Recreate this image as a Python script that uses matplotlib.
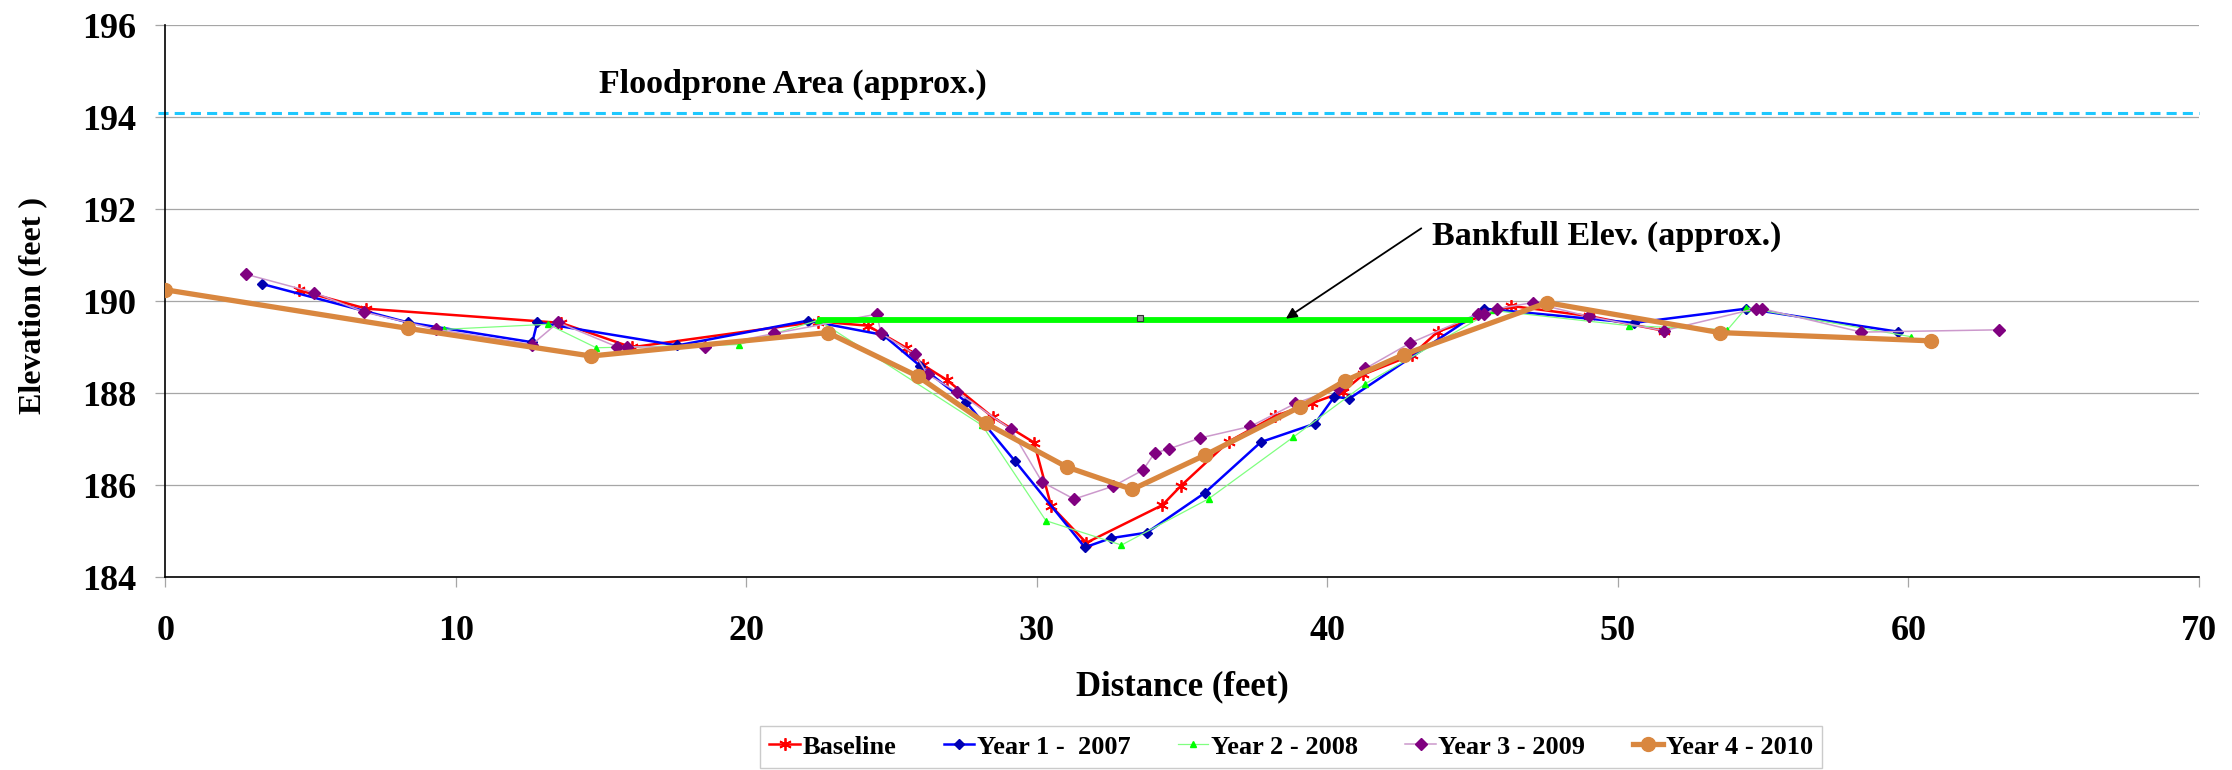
import matplotlib
matplotlib.use("Agg")
import matplotlib.pyplot as plt

# cross-section survey data: distance (feet) vs elevation (feet)
base_x = [4.6, 6.91, 13.62, 16.05, 22.48, 24.18, 25.5, 26.09, 26.9, 28.48, 29.9, 30.49, 31.7,
          34.32, 34.96, 36.6, 38.21, 39.46, 40.52, 41.24, 42.91, 43.8, 46.32, 49.0, 51.57]
base_y = [190.24, 189.84, 189.53, 189.0, 189.56, 189.47, 188.99, 188.61, 188.29, 187.48, 186.93,
          185.55, 184.75, 185.57, 185.99, 186.95, 187.51, 187.78, 188.03, 188.41, 188.83, 189.34,
          189.9, 189.68, 189.36]

yr1_x = [3.31, 8.35, 12.63, 12.8, 17.62, 22.12, 24.7, 25.99, 27.55, 29.24, 31.65, 32.54, 33.78,
         35.77, 37.71, 39.57, 40.24, 40.74, 45.4, 50.54, 54.42, 59.63]
yr1_y = [190.38, 189.54, 189.11, 189.54, 189.04, 189.58, 189.27, 188.59, 187.82, 186.53, 184.65,
         184.85, 184.97, 185.83, 186.94, 187.34, 187.93, 187.88, 189.84, 189.53, 189.84, 189.34]

yr2_x = [9.58, 13.17, 14.83, 19.75, 22.48, 28.12, 30.31, 32.91, 35.92, 38.81, 41.31, 45.7,
         50.38, 53.77, 54.42, 60.09]
yr2_y = [189.39, 189.5, 188.99, 189.06, 189.59, 187.3, 185.23, 184.7, 185.71, 187.04, 188.21,
         189.8, 189.47, 189.38, 189.86, 189.23]

yr3_x = [2.76, 5.12, 6.82, 9.33, 12.62, 13.52, 15.55, 15.9, 18.58, 20.96, 24.48, 24.64, 25.8,
         26.24, 27.25, 29.1, 30.18, 31.28, 32.63, 33.65, 34.05, 34.54, 35.63, 37.35, 38.9, 40.38,
         41.31, 42.84, 45.18, 45.4, 45.84, 47.06, 49.0, 51.57, 54.74, 54.96, 58.38, 63.12]
yr3_y = [190.59, 190.19, 189.77, 189.39, 189.06, 189.54, 189.01, 189.01, 189.0, 189.3, 189.72,
         189.3, 188.85, 188.41, 188.03, 187.22, 186.07, 185.7, 185.98, 186.33, 186.7, 186.79,
         187.03, 187.28, 187.78, 188.12, 188.54, 189.09, 189.73, 189.73, 189.84, 189.97, 189.67,
         189.36, 189.84, 189.84, 189.33, 189.38]

yr4_x = [0, 8.36, 14.65, 22.8, 25.9, 28.23, 31.02, 33.28, 35.8, 39.07, 40.6, 42.62, 47.56, 53.5, 60.79]
yr4_y = [190.25, 189.41, 188.81, 189.32, 188.37, 187.35, 186.4, 185.91, 186.66, 187.71, 188.27,
         188.84, 189.97, 189.32, 189.14]

floodprone_elev = 194.1
bankfull_elev = 189.59
bankfull_x = [22.48, 45.0]

plt.rcParams['font.family'] = ['Liberation Serif', 'DejaVu Serif']
plt.rcParams['font.weight'] = 'bold'

fig = plt.figure(figsize=(22.32, 7.7), dpi=100)
ax = fig.add_axes([0.0741, 0.2503, 0.9111, 0.7168])

ax.plot(base_x, base_y, color='#FF0000', lw=1.8, marker=(6, 2, 0), ms=9, mew=1.3,
        mec='#FF0000', label='Baseline', zorder=3)
ax.plot(yr1_x, yr1_y, color='#0000FF', lw=1.8, marker='D', ms=5.5, mfc='#0000B0',
        mec='#0000B0', label='Year 1 -  2007', zorder=3)
ax.plot(yr2_x, yr2_y, color='#80FF80', lw=0.9, marker='^', ms=5, mfc='#00FF00',
        mec='#00FF00', label='Year 2 - 2008', zorder=3)
ax.plot(yr3_x, yr3_y, color='#CC99CC', lw=1.1, marker='D', ms=6, mfc='#800080',
        mec='#800080', label='Year 3 - 2009', zorder=3)
ax.plot(yr4_x, yr4_y, color='#D9873F', lw=3.8, marker='o', ms=10, mfc='#D9873F',
        mec='#D9873F', label='Year 4 - 2010', zorder=4)

# reference lines
ax.plot([-0.25, 70], [floodprone_elev, floodprone_elev], color='#1EC8FF', lw=2.2,
        dashes=(3.3, 2.0), clip_on=False, zorder=2)
ax.plot(bankfull_x, [bankfull_elev, bankfull_elev], color='#00FF00', lw=4.2,
        solid_capstyle='butt', zorder=5)
ax.plot([33.55], [bankfull_elev + 0.05], marker='s', ms=5, mfc='#9A9A9A', mec='#333333',
        mew=0.8, zorder=6)

ax.text(14.93, 194.54, 'Floodprone Area (approx.)', fontsize=24.5, fontweight='bold',
        va='baseline', ha='left')
ax.text(43.6, 191.22, 'Bankfull Elev. (approx.)', fontsize=24.5, fontweight='bold',
        va='baseline', ha='left')
ax.annotate('', xy=(38.49, bankfull_elev), xytext=(43.31, 191.62),
            arrowprops=dict(arrowstyle='-|>', color='black', lw=1.3, mutation_scale=16),
            zorder=6)

ax.set_xlim(0, 70)
ax.set_ylim(184, 196)
ax.set_xticks(range(0, 71, 10))
ax.set_yticks(range(184, 197, 2))
ax.yaxis.grid(True, color='#A6A6A6', lw=0.9)
ax.set_axisbelow(True)

for s in ['top', 'right']:
    ax.spines[s].set_visible(False)
for s in ['left', 'bottom']:
    ax.spines[s].set_color('black')
    ax.spines[s].set_linewidth(1.2)

ax.tick_params(axis='y', length=7, width=0.9, color='#A6A6A6', labelcolor='black',
               labelsize=26, pad=14)
ax.tick_params(axis='x', length=7, width=0.9, color='#A6A6A6', labelcolor='black',
               labelsize=26, pad=20)
for lbl in ax.get_xticklabels() + ax.get_yticklabels():
    lbl.set_fontweight('bold')

ax.set_xlabel('Distance (feet)', fontsize=25, fontweight='bold')
ax.xaxis.set_label_coords(0.5, -0.168)
ax.set_ylabel('Elevation (feet )', fontsize=23, fontweight='bold')
ax.yaxis.set_label_coords(-0.058, 0.493)

leg = fig.legend(loc='center', bbox_to_anchor=(0.5785, 0.030), ncol=5,
                 handlelength=1.15, handletextpad=0.1, columnspacing=1.8, frameon=True,
                 fancybox=False, borderpad=0.35, borderaxespad=0.0,
                 prop={'weight': 'bold', 'size': 19})
leg.get_frame().set_edgecolor('#BFBFBF')
leg.get_frame().set_linewidth(1.0)

fig.savefig('out.png', dpi=100)
